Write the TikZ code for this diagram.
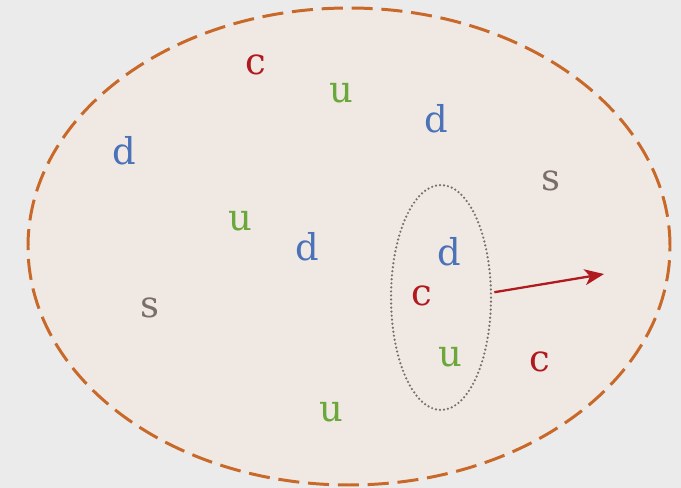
\documentclass[tikz,border=0pt]{standalone}
\usepackage{fontspec}
\setmainfont{DejaVu Serif}
\usepackage{tikz}
\usetikzlibrary{arrows.meta,shapes.geometric}
\definecolor{qbg}{HTML}{EBEBEB}
\definecolor{qfill}{HTML}{F0E8E3}
\definecolor{qrim}{HTML}{C8692A}
\definecolor{qred}{HTML}{B0191E}
\definecolor{qgreen}{HTML}{6AA83C}
\definecolor{qblue}{HTML}{4A72B8}
\definecolor{qgray}{HTML}{7A6E68}
\tikzset{
  bag/.style={ellipse,draw=qrim,fill=qfill,line width=1.7pt,dash pattern=on 12pt off 5pt,inner sep=0pt,minimum width=12.84cm,minimum height=9.54cm},
  clus/.style={ellipse,draw=qgray,line width=1.4pt,dash pattern=on 0pt off 2.3pt,line cap=round,inner sep=0pt,minimum width=2cm,minimum height=4.5cm},
  qk/.style={font=\fontsize{21}{25}\selectfont,inner sep=0pt},
  arr/.style={-{Stealth[length=11pt,width=9pt,inset=3pt]},line width=1.3pt,draw=qred},
}
\begin{document}
\begin{tikzpicture}
  \fill[qbg] (0,0) rectangle (13.62,9.76);
  \useasboundingbox (0,0) rectangle (13.62,9.76);
  \node[bag] (bag) at (6.98,4.83) {};
  \foreach \x/\y/\q/\c [count=\i] in {5.12/8.46/c/qred, 6.82/7.90/u/qgreen, 8.72/7.38/d/qblue,
                                     2.48/6.74/d/qblue, 11.02/6.14/s/qgray, 4.80/5.34/u/qgreen,
                                     6.14/4.82/d/qblue, 8.98/4.72/d/qblue, 8.44/3.84/c/qred,
                                     3.00/3.60/s/qgray, 9.00/2.62/u/qgreen, 10.80/2.52/c/qred,
                                     6.62/1.52/u/qgreen} {
    \node[qk,text=\c] (q\i) at (\x,\y) {\q};
  }
  \node[clus] (clus) at (8.82,3.81) {};
  \coordinate (tip) at (12.08,4.28);
  \draw[arr] ([xshift=1.2pt,yshift=3pt]clus.east) -- (tip);
\end{tikzpicture}
\end{document}
